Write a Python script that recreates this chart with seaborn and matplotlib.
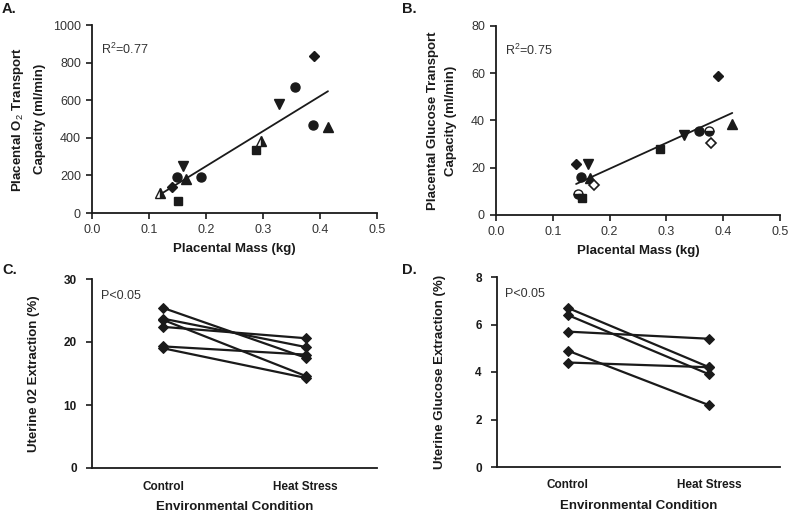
import matplotlib
matplotlib.use("Agg")
import matplotlib.pyplot as plt
import seaborn as sns
import pandas as pd
import numpy as np

# ---------------- data ----------------
mass_a = [0.120, 0.140, 0.149, 0.150, 0.160, 0.165, 0.191, 0.288, 0.296, 0.328, 0.356, 0.388, 0.390, 0.414]
o2_a = [105, 140, 190, 65, 250, 180, 190, 335, 385, 580, 670, 468, 835, 460]
markers_a = ['^', 'D', 'o', 's', 'v', '^', 'o', 's', '^', 'v', 'o', 'o', 'D', '^']
fill_a = ['half', 'full', 'full', 'full', 'full', 'full', 'full', 'full', 'half', 'full', 'full', 'full', 'full', 'full']

mass_b = [0.141, 0.144, 0.150, 0.151, 0.162, 0.166, 0.172, 0.289, 0.331, 0.357, 0.375, 0.379, 0.391, 0.416]
glu_b = [21.4, 8.7, 16.2, 7.2, 21.4, 15.8, 12.7, 27.9, 33.8, 35.6, 35.5, 30.3, 59.0, 38.7]
markers_b = ['D', 'o', 'o', 's', 'v', '^', 'D', 's', 'v', 'o', 'o', 'D', 'D', '^']
fill_b = ['full', 'half', 'full', 'full', 'full', 'full', 'open', 'full', 'full', 'full', 'half', 'open', 'full', 'full']

conditions = ['Control', 'Heat Stress']
o2_control = [25.4, 23.7, 23.5, 22.4, 19.3, 19.0]
o2_heat = [17.5, 19.2, 14.6, 20.6, 18.0, 14.3]
glu_control = [6.7, 6.4, 5.7, 4.9, 4.4]
glu_heat = [4.2, 3.9, 5.4, 2.6, 4.2]

r2_a = "R$^2$=0.77"
r2_b = "R$^2$=0.75"
p_text = "P<0.05"

# ---------------- style ----------------
sns.set_theme(style="ticks")
plt.rcParams['font.family'] = ['Liberation Sans', 'DejaVu Sans']
plt.rcParams['mathtext.fontset'] = 'custom'
plt.rcParams['mathtext.rm'] = 'Liberation Sans'
plt.rcParams['mathtext.it'] = 'Liberation Sans'

W, H = 790, 513
fig = plt.figure(figsize=(7.9, 5.13), dpi=100)

def box(l, t, r, b):
    return [l / W, 1 - b / H, (r - l) / W, (b - t) / H]

axA = fig.add_axes(box(92, 25, 377, 213))
axB = fig.add_axes(box(496, 26, 780, 215))
axC = fig.add_axes(box(92, 279, 377, 468))
axD = fig.add_axes(box(497, 277, 780, 467))

ink = '#1a1a1a'
tick_col = '#333333'
lab_kw = dict(fontsize=9.5, fontweight='bold', color=ink)

def style_axis(ax, bold_y=False, tick_size=9):
    sns.despine(ax=ax)
    for s in ['left', 'bottom']:
        ax.spines[s].set_linewidth(1.3)
        ax.spines[s].set_color(ink)
    ax.tick_params(axis='both', direction='out', length=4, width=1.2, color=ink,
                   labelsize=tick_size, labelcolor=tick_col, pad=4)
    if bold_y:
        for t in ax.get_yticklabels():
            t.set_fontweight('bold')
            t.set_color(ink)

def draw_points(ax, xs, ys, mks, fills, ms_map):
    for x, y, m, f in zip(xs, ys, mks, fills):
        ms = ms_map.get(m, 6.5)
        if f == 'full':
            ax.plot(x, y, marker=m, ms=ms, color=ink, mec=ink, mfc=ink, ls='none', zorder=3)
        elif f == 'open':
            ax.plot(x, y, marker=m, ms=ms, mec=ink, mfc='white', mew=1.2, ls='none', zorder=3)
        else:
            fs = 'right' if m == '^' else 'bottom'
            ax.plot(x, y, marker=m, ms=ms, mec=ink, mfc=ink, mfcalt='white',
                    fillstyle=fs, mew=1.0, ls='none', zorder=3)

ms_map = {'o': 6.5, 's': 6.2, '^': 6.8, 'v': 6.8, 'D': 4.8}

# ---- Panel A ----
dfA = pd.DataFrame({'mass': mass_a, 'o2': o2_a})
sns.regplot(data=dfA, x='mass', y='o2', ax=axA, scatter=False, ci=None,
            line_kws=dict(color=ink, lw=1.3))
draw_points(axA, mass_a, o2_a, markers_a, fill_a, ms_map)
axA.set_xlim(0, 0.5)
axA.set_ylim(0, 1000)
axA.set_xticks(np.arange(0, 0.51, 0.1))
axA.set_xticklabels([f"{v:.1f}" for v in np.arange(0, 0.51, 0.1)])
axA.set_yticks(range(0, 1001, 200))
axA.set_xlabel("Placental Mass (kg)", labelpad=5, **lab_kw)
axA.set_ylabel("Placental O$_2$ Transport\nCapacity (ml/min)", linespacing=1.9, labelpad=5, **lab_kw)
axA.text(0.03, 0.87, r2_a, transform=axA.transAxes, fontsize=9, color=tick_col, va='center')
style_axis(axA)

# ---- Panel B ----
dfB = pd.DataFrame({'mass': mass_b, 'glu': glu_b})
sns.regplot(data=dfB, x='mass', y='glu', ax=axB, scatter=False, ci=None,
            line_kws=dict(color=ink, lw=1.3))
draw_points(axB, mass_b, glu_b, markers_b, fill_b, ms_map)
axB.set_xlim(0, 0.5)
axB.set_ylim(0, 80)
axB.set_xticks(np.arange(0, 0.51, 0.1))
axB.set_xticklabels([f"{v:.1f}" for v in np.arange(0, 0.51, 0.1)])
axB.set_yticks(range(0, 81, 20))
axB.set_xlabel("Placental Mass (kg)", labelpad=5, **lab_kw)
axB.set_ylabel("Placental Glucose Transport\nCapacity (ml/min)", linespacing=1.7, labelpad=10, **lab_kw)
axB.text(0.03, 0.87, r2_b, transform=axB.transAxes, fontsize=9, color=tick_col, va='center')
style_axis(axB)

# ---- Panel C ----
rowsC = []
for i, (c, h) in enumerate(zip(o2_control, o2_heat)):
    rowsC.append({'subject': i, 'cond': conditions[0], 'val': c})
    rowsC.append({'subject': i, 'cond': conditions[1], 'val': h})
dfC = pd.DataFrame(rowsC)
sns.lineplot(data=dfC, x='cond', y='val', units='subject', estimator=None, ax=axC,
             color=ink, lw=1.6, marker='D', markersize=5, mec=ink, mfc=ink)
axC.set_xlim(-0.5, 1.5)
axC.set_ylim(0, 30)
axC.set_yticks(range(0, 31, 10))
axC.set_xlabel("Environmental Condition", labelpad=6, **lab_kw)
axC.set_ylabel("Uterine 02 Extraction (%)", labelpad=17, **lab_kw)
axC.text(0.03, 0.91, p_text, transform=axC.transAxes, fontsize=9, color=tick_col, va='center')
style_axis(axC, bold_y=True, tick_size=8.5)
axC.tick_params(axis='y', pad=7)
for t in axC.get_xticklabels():
    t.set_fontweight('bold'); t.set_color(ink)
axC.tick_params(axis='x', length=0, pad=9)

# ---- Panel D ----
rowsD = []
for i, (c, h) in enumerate(zip(glu_control, glu_heat)):
    rowsD.append({'subject': i, 'cond': conditions[0], 'val': c})
    rowsD.append({'subject': i, 'cond': conditions[1], 'val': h})
dfD = pd.DataFrame(rowsD)
sns.lineplot(data=dfD, x='cond', y='val', units='subject', estimator=None, ax=axD,
             color=ink, lw=1.6, marker='D', markersize=5, mec=ink, mfc=ink)
axD.set_xlim(-0.5, 1.5)
axD.set_ylim(0, 8)
axD.set_yticks(range(0, 9, 2))
axD.set_xlabel("Environmental Condition", labelpad=6, **lab_kw)
axD.set_ylabel("Uterine Glucose Extraction (%)", labelpad=21, **lab_kw)
axD.text(0.03, 0.91, p_text, transform=axD.transAxes, fontsize=9, color=tick_col, va='center')
style_axis(axD, bold_y=True, tick_size=8.5)
axD.tick_params(axis='y', pad=7)
for t in axD.get_xticklabels():
    t.set_fontweight('bold'); t.set_color(ink)
axD.tick_params(axis='x', length=0, pad=9)

# ---- panel letters ----
for lbl, x, y in [("A.", 2, 2), ("B.", 402, 2), ("C.", 2, 263), ("D.", 402, 263)]:
    fig.text(x / W, 1 - y / H, lbl, fontsize=10.5, fontweight='bold', color=ink, va='top', ha='left')

fig.savefig("out.png", dpi=100)
